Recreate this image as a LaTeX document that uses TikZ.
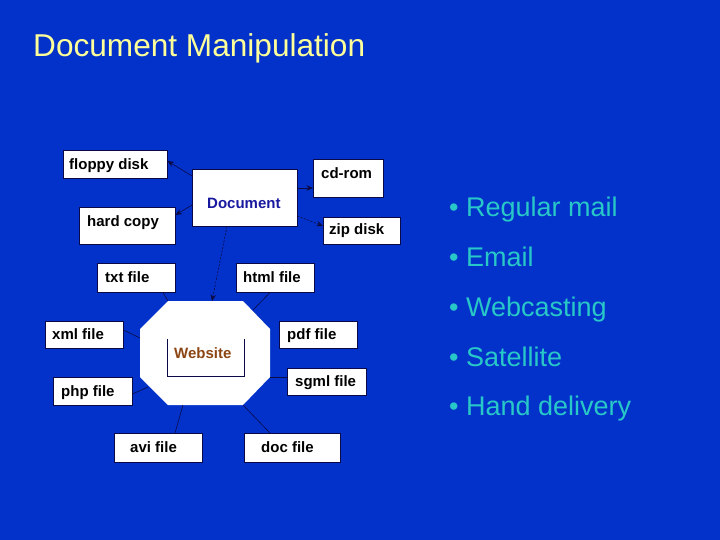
\documentclass[tikz,border=0pt]{standalone}
\usepackage{fontspec}
\setmainfont{Liberation Sans}
\usetikzlibrary{arrows.meta}
\definecolor{bg}{RGB}{3,50,202}
\definecolor{titlecol}{RGB}{255,255,153}
\definecolor{bulletcol}{RGB}{40,200,200}
\definecolor{linecol}{RGB}{10,10,70}
\definecolor{doccol}{RGB}{25,25,160}
\definecolor{webcol}{RGB}{140,70,20}
\begin{document}
\begin{tikzpicture}[x=1pt,y=-1pt,
  box/.style={draw=linecol, line width=0.5pt, fill=white, inner sep=0pt, anchor=north west},
  lbl/.style={anchor=base west, inner sep=0pt, font=\fontsize{15}{18}\selectfont\bfseries},
  conn/.style={draw=linecol, line width=0.6pt},
  arr/.style={conn, -{Stealth[length=6.5pt,width=5.5pt]}},
  bul/.style={anchor=base west, inner sep=0pt, text=bulletcol, font=\fontsize{27}{32}\selectfont}]
\useasboundingbox (0,0) rectangle (720,540);
\fill[bg] (0,0) rectangle (720,540);

% title
\node[anchor=base west, inner sep=0pt, text=titlecol, font=\fontsize{31.6}{38}\selectfont] (title) at (33,57) {Document Manipulation};

% boxes
\node[box, minimum width=104pt, minimum height=28pt] (floppy) at (63,150) {};
\node[box, minimum width=70pt, minimum height=38pt] (cdrom) at (313,159) {};
\node[box, minimum width=105pt, minimum height=57pt] (doc) at (192,169) {};
\node[box, minimum width=96pt, minimum height=37pt] (hard) at (79,207) {};
\node[box, minimum width=77pt, minimum height=27pt] (zip) at (323,217) {};
\node[box, minimum width=78pt, minimum height=29pt] (txt) at (97,263) {};
\node[box, minimum width=78pt, minimum height=29pt] (html) at (236,263) {};
\node[box, minimum width=78pt, minimum height=27pt] (xml) at (45,321) {};
\node[box, minimum width=78pt, minimum height=27pt] (pdf) at (279,321) {};
\node[box, minimum width=79pt, minimum height=28pt] (php) at (53,377) {};
\node[box, minimum width=79pt, minimum height=27pt] (sgml) at (287,368) {};
\node[box, minimum width=88pt, minimum height=29pt] (avi) at (114,433) {};
\node[box, minimum width=96pt, minimum height=29pt] (docf) at (244,433) {};

% website octagon
\fill[white] (168,301) -- (243,301) -- (270,329) -- (270,377) -- (243,405) -- (168,405) -- (140,377) -- (140,329) -- cycle;
\draw[linecol, line width=0.6pt] (167,339) -- (167,376) -- (244,376) -- (244,339);
\coordinate (wtop) at (212,301);
\coordinate (wtxt) at (168,301);
\coordinate (whtml) at (253,310);
\coordinate (wxml) at (140,338);
\coordinate (wphp) at (148,387);
\coordinate (wsgml) at (270,377);
\coordinate (wavi) at (183,405);
\coordinate (wdoc) at (243,405);

% labels
\node[lbl] (tfloppy) at (69,170) {floppy disk};
\node[lbl] (tcdrom) at (321,179) {cd-rom};
\node[lbl, text=doccol] (tdoc) at (207,208) {Document};
\node[lbl] (thard) at (87,226) {hard copy};
\node[lbl] (tzip) at (329,235) {zip disk};
\node[lbl] (ttxt) at (105,282) {txt file};
\node[lbl] (thtml) at (243,282) {html file};
\node[lbl] (txml) at (52,339) {xml file};
\node[lbl] (tpdf) at (287,339) {pdf file};
\node[lbl, text=webcol] (tweb) at (174,358) {Website};
\node[lbl] (tphp) at (61,396) {php file};
\node[lbl] (tsgml) at (295,386) {sgml file};
\node[lbl] (tavi) at (130,452) {avi file};
\node[lbl] (tdocf) at (261,452) {doc file};

% connectors from Document
\draw[arr] (doc.west |- 0,176) -- (floppy.east |- 0,161);
\draw[arr] (doc.east |- 0,188) -- (cdrom.west |- 0,188);
\draw[arr] (doc.west |- 0,205) -- (hard.east |- 0,215);
\draw[arr, dash pattern=on 2pt off 1.5pt] (doc.east |- 0,216) -- (zip.west |- 0,226);
\draw[arr, dash pattern=on 2pt off 1.5pt] (doc.south -| 227,0) -- (wtop);

% connectors to website
\draw[conn] (txt.south -| 163,0) -- (wtxt);
\draw[conn] (html.south -| 270,0) -- (whtml);
\draw[conn] (xml.east |- 0,330) -- (wxml);
\draw[conn] (php.east |- 0,394) -- (wphp);
\draw[conn] (sgml.west |- 0,377) -- (wsgml);
\draw[conn] (avi.north -| 175,0) -- (wavi);
\draw[conn] (docf.north -| 270,0) -- (wdoc);

% bullets
\node[bul] (b1) at (449,216) {• Regular mail};
\node[bul] (b2) at (449,266) {• Email};
\node[bul] (b3) at (449,316) {• Webcasting};
\node[bul] (b4) at (449,366) {• Satellite};
\node[bul] (b5) at (449,415) {• Hand delivery};
\end{tikzpicture}
\end{document}
